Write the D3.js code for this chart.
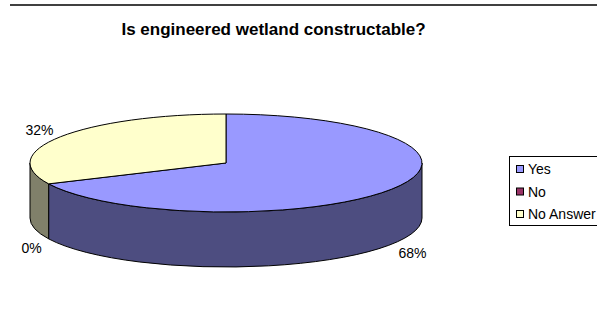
<!DOCTYPE html>
<html><head><meta charset="utf-8">
<script src="https://cdn.jsdelivr.net/npm/d3@7"></script>
<style>html,body{margin:0;padding:0;background:#fff;}svg{display:block;font-family:Arial,"Liberation Sans",sans-serif;}</style>
</head><body>
<svg id="c" width="597" height="330"></svg>
<script>
const categories = ["Yes", "No", "No Answer"];
const values = [68, 0, 32];
const labels = ["68%", "0%", "32%"];
const topColors = ["#9999FF", "#993366", "#FFFFCC"];
const sideColors = ["#4D4D80", "#4D1A33", "#80806A"];
const title = "Is engineered wetland constructable?";

const svg = d3.select("#c");
const W = 597, H = 330;
const cx = 226, cy = 163, rx = 196, ry = 49, depth = 55;

svg.append("line").attr("x1", 10).attr("x2", W).attr("y1", 5).attr("y2", 5)
  .attr("stroke", "#000").attr("stroke-width", 1.6);

svg.append("text").attr("x", 273.5).attr("y", 34.5).attr("text-anchor", "middle")
  .attr("font-size", 17).attr("font-weight", "bold").text(title);

const pie = d3.pie().sort(null).value(d => d).startAngle(0).endAngle(2 * Math.PI);
const arcs = pie(values);

const px = a => cx + rx * Math.sin(a);
const py = a => cy - ry * Math.cos(a);

// side walls (front half: angles between PI/2 and 3PI/2)
const g = svg.append("g");
arcs.forEach((d, i) => {
  const s = Math.max(d.startAngle, Math.PI / 2), e = Math.min(d.endAngle, 3 * Math.PI / 2);
  if (e - s <= 1e-6) return;
  const large = (e - s) > Math.PI ? 1 : 0;
  const p = `M${px(s)},${py(s)} A${rx},${ry} 0 ${large} 1 ${px(e)},${py(e)} L${px(e)},${py(e) + depth} A${rx},${ry} 0 ${large} 0 ${px(s)},${py(s) + depth} Z`;
  g.append("path").attr("d", p).attr("fill", sideColors[i]).attr("stroke", "#000").attr("stroke-width", 1).attr("stroke-linejoin", "round");
});
// top faces
arcs.forEach((d, i) => {
  const s = d.startAngle, e = d.endAngle;
  if (e - s <= 1e-6) return;
  const large = (e - s) > Math.PI ? 1 : 0;
  const p = `M${cx},${cy} L${px(s)},${py(s)} A${rx},${ry} 0 ${large} 1 ${px(e)},${py(e)} Z`;
  g.append("path").attr("d", p).attr("fill", topColors[i]).attr("stroke", "#000").attr("stroke-width", 1).attr("stroke-linejoin", "round");
});

// labels
arcs.forEach((d, i) => {
  const m = (d.startAngle + d.endAngle) / 2;
  const front = Math.cos(m) < 0;
  const right = Math.sin(m) >= 0;
  const x = px(m) + (right ? 7 : -7);
  const y = py(m) + (front ? depth + 9 : -7) + 5;
  svg.append("text").attr("x", x).attr("y", y)
    .attr("text-anchor", right ? "start" : "end")
    .attr("font-size", 14).attr("fill", "#000").text(labels[i]);
});

// legend
const lg = svg.append("g");
lg.append("rect").attr("x", 509.5).attr("y", 156.5).attr("width", 100).attr("height", 69)
  .attr("fill", "#fff").attr("stroke", "#000").attr("stroke-width", 1);
const ly = d3.scalePoint().domain(categories).range([169, 214]);
categories.forEach((c, i) => {
  lg.append("rect").attr("x", 516.5).attr("y", ly(c) - 3.5).attr("width", 7).attr("height", 7)
    .attr("fill", topColors[i]).attr("stroke", "#000").attr("stroke-width", 1);
  lg.append("text").attr("x", 528).attr("y", ly(c) + 5).attr("font-size", 14).text(c);
});
</script>
</body></html>
